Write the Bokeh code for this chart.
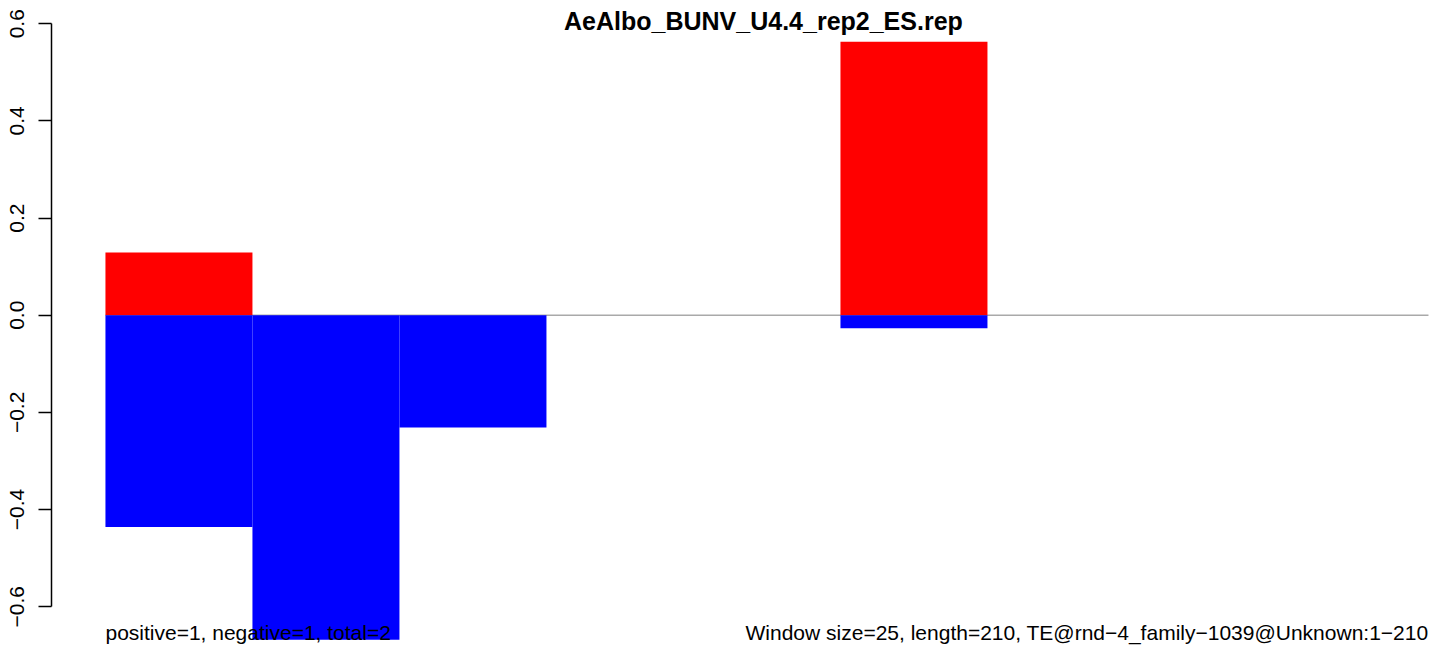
from bokeh.plotting import figure
from bokeh.models import Label, FixedTicker, CustomJSTickFormatter, Range1d
from bokeh.embed import file_html
from bokeh.resources import INLINE

# ---- data ----
window_starts = [1, 26, 51, 76, 101, 126, 151, 176, 201]
positive_vals = [0.129, 0.0, 0.0, 0.0, 0.0, 0.563, 0.0, 0.0, 0.0]
negative_vals = [-0.436, -0.668, -0.231, 0.0, 0.0, -0.027, 0.0, 0.0, 0.0]
y_ticks = [-0.6, -0.4, -0.2, 0.0, 0.2, 0.4, 0.6]
title_text = "AeAlbo_BUNV_U4.4_rep2_ES.rep"
left_note = "positive=1, negative=1, total=2"
right_note = "Window size=25, length=210, TE@rnd\u22124_family\u22121039@Unknown:1\u2212210"

FONT = "Liberation Sans"
n = len(window_starts)
centers = [i + 0.5 for i in range(n)]

W, H = 1429, 645
p = figure(
    width=W, height=H,
    output_backend="svg", toolbar_location=None,
    x_axis_type=None,
    x_range=Range1d(-0.367, 9.007),
    y_range=Range1d(-0.6799, 0.6478),
    min_border_left=51, min_border_right=0,
    min_border_top=0, min_border_bottom=0,
)
p.outline_line_color = None
p.grid.visible = False
p.background_fill_color = "white"
p.border_fill_color = "white"

# zero line (beneath bars)
p.line(x=[0, n], y=[0, 0], line_color="#A9A9A9", line_width=1.6)

# bars
p.vbar(x=centers, width=1.0, top=positive_vals, bottom=0,
       fill_color="#FF0000", line_color=None)
p.vbar(x=centers, width=1.0, top=0, bottom=negative_vals,
       fill_color="#0000FF", line_color=None)

# y axis
ax = p.yaxis[0]
ax.ticker = FixedTicker(ticks=y_ticks, minor_ticks=[])
ax.bounds = (min(y_ticks), max(y_ticks))
ax.formatter = CustomJSTickFormatter(code="return tick.toFixed(1).replace('-', '\u2212');")
ax.major_label_orientation = "parallel"
ax.major_tick_out = 13
ax.major_tick_in = 0
ax.minor_tick_out = 0
ax.minor_tick_in = 0
ax.major_label_standoff = 14
ax.axis_line_width = 1.5
ax.major_tick_line_width = 1.5
ax.axis_line_color = "black"
ax.major_tick_line_color = "black"
ax.major_label_text_font = FONT
ax.major_label_text_font_size = "21px"
ax.major_label_text_color = "black"

# title
p.add_layout(Label(x=4.476, y=H - 20, y_units="screen", text=title_text,
                   text_align="center", text_baseline="alphabetic",
                   text_font=FONT, text_font_style="bold",
                   text_font_size="25px", text_color="black"))

# bottom notes
p.add_layout(Label(x=0, y=13, y_units="screen", text=left_note,
                   text_align="left", text_baseline="alphabetic",
                   text_font=FONT, text_font_size="21px", text_color="black"))
p.add_layout(Label(x=W - 51 - 1, y=13, x_units="screen", y_units="screen", text=right_note,
                   text_align="right", text_baseline="alphabetic",
                   text_font=FONT, text_font_size="21px", text_color="black"))

open("out.html", "w").write(file_html(p, INLINE))
